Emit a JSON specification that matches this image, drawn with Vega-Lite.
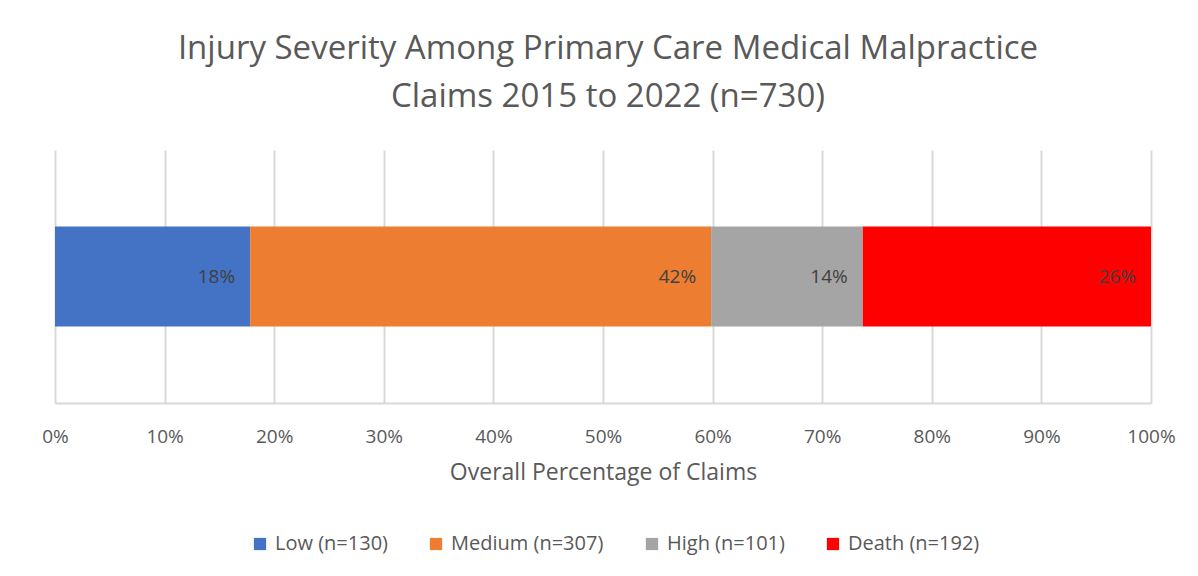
{
  "$schema": "https://vega.github.io/schema/vega-lite/v6.json",
  "width": 1096,
  "height": 253,
  "autosize": {"type": "none"},
  "padding": {"left": 55, "top": 150, "right": 47, "bottom": 173},
  "background": "white",
  "title": {
    "text": ["Injury Severity Among Primary Care Medical Malpractice", "Claims 2015 to 2022 (n=730)"],
    "font": "Open Sans",
    "fontSize": 33,
    "fontWeight": "normal",
    "color": "#595959",
    "lineHeight": 48,
    "anchor": "middle",
    "frame": "group",
    "offset": 36,
    "dx": 5
  },
  "data": {
    "values": [
      {"severity": "Low (n=130)", "count": 130, "label": "18%", "ord": 1, "g": "all"},
      {"severity": "Medium (n=307)", "count": 307, "label": "42%", "ord": 2, "g": "all"},
      {"severity": "High (n=101)", "count": 101, "label": "14%", "ord": 3, "g": "all"},
      {"severity": "Death (n=192)", "count": 192, "label": "26%", "ord": 4, "g": "all"}
    ]
  },
  "transform": [
    {"stack": "count", "groupby": ["g"], "sort": [{"field": "ord", "order": "ascending"}], "offset": "normalize", "as": ["x0", "x1"]}
  ],
  "encoding": {
    "y": {"field": "g", "type": "nominal", "axis": null}
  },
  "layer": [
    {
      "mark": {"type": "bar", "size": 100},
      "encoding": {
        "x": {
          "field": "x0", "type": "quantitative",
          "scale": {"domain": [0, 1], "nice": false},
          "axis": {
            "format": ".0%",
            "values": [0, 0.1, 0.2, 0.3, 0.4, 0.5, 0.6, 0.7, 0.8, 0.9, 1],
            "title": "Overall Percentage of Claims",
            "titleFont": "Open Sans",
            "titleFontSize": 23,
            "titleFontWeight": "normal",
            "titleColor": "#595959",
            "titlePadding": 15,
            "labelFont": "Open Sans",
            "labelFontSize": 19,
            "labelColor": "#595959",
            "labelPadding": 24,
            "labelFlush": false,
            "labelOverlap": false,
            "ticks": false,
            "domainColor": "#d9d9d9",
            "domainWidth": 2,
            "grid": true,
            "gridColor": "#d9d9d9",
            "gridWidth": 2
          }
        },
        "x2": {"field": "x1"},
        "color": {
          "field": "severity", "type": "nominal",
          "sort": ["Low (n=130)", "Medium (n=307)", "High (n=101)", "Death (n=192)"],
          "scale": {
            "domain": ["Low (n=130)", "Medium (n=307)", "High (n=101)", "Death (n=192)"],
            "range": ["#4472C4", "#ED7D31", "#A5A5A5", "#FF0000"]
          },
          "legend": {
            "title": null,
            "orient": "none",
            "legendX": 195,
            "legendY": 384,
            "direction": "horizontal",
            "symbolType": "square",
            "symbolSize": 150,
            "symbolStrokeWidth": 0,
            "symbolOffset": 0,
            "labelOffset": 5,
            "labelFont": "Open Sans",
            "labelFontSize": 20,
            "labelColor": "#595959",
            "columnPadding": 38
          }
        }
      }
    },
    {
      "mark": {"type": "text", "align": "right", "baseline": "middle", "dx": -15, "font": "Open Sans", "fontSize": 19, "color": "#404040"},
      "encoding": {
        "x": {"field": "x1", "type": "quantitative"},
        "text": {"field": "label", "type": "nominal"}
      }
    }
  ],
  "config": {
    "view": {"stroke": null},
    "axisY": {"grid": false}
  }
}
